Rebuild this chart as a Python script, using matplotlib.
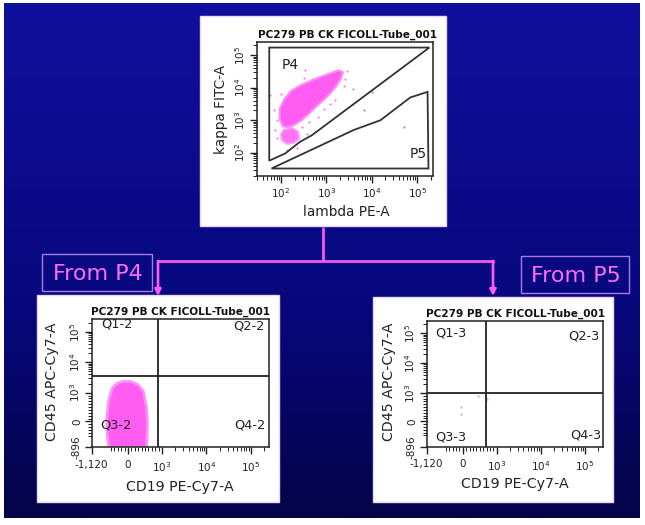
import numpy as np
import matplotlib
matplotlib.use('Agg')
import matplotlib.pyplot as plt
from matplotlib.patches import Rectangle, Polygon
from matplotlib.ticker import FixedLocator, FixedFormatter, NullFormatter, LogLocator

plt.rcParams['font.family'] = ['DejaVu Sans']
plt.rcParams['mathtext.fontset'] = 'dejavusans'

# ---------------- data ----------------
title = 'PC279 PB CK FICOLL-Tube_001'
top_xlabel = 'lambda PE-A'
top_ylabel = 'kappa FITC-A'
low_xlabel = 'CD19 PE-Cy7-A'
low_ylabel = 'CD45 APC-Cy7-A'
from_labels = ['From P4', 'From P5']

top_major_exp = [2, 3, 4, 5]
top_xlim_exp = (1.47, 5.35)
top_ylim_exp = (1.29, 5.40)

# gates in log10 units (lambda, kappa)
p4_gate_exp = [(1.74, 5.23), (5.27, 5.23), (2.68, 2.54), (2.42, 2.34), (2.09, 1.98), (1.74, 1.76)]
p5_gate_exp = [(1.79, 1.52), (3.60, 2.70), (4.19, 3.00), (4.85, 3.70), (5.23, 3.87), (5.25, 1.52)]
gate_labels = [('P4', 2.20, 4.69), ('P5', 5.03, 1.98)]

# kappa-positive cloud outline (log10 units)
cloud_main_exp = [(1.97, 3.05), (1.97, 3.35), (2.07, 3.64), (2.22, 3.90), (2.44, 4.08), (2.70, 4.24),
                  (2.93, 4.36), (3.12, 4.46), (3.27, 4.53), (3.36, 4.47), (3.32, 4.28), (3.22, 4.05),
                  (3.08, 3.82), (2.92, 3.60), (2.76, 3.40), (2.60, 3.18), (2.45, 3.00), (2.30, 2.86),
                  (2.15, 2.78), (2.03, 2.82)]
cloud_minor_exp = [(2.05, 2.70), (2.24, 2.78), (2.38, 2.65), (2.40, 2.44), (2.29, 2.31), (2.13, 2.27),
                   (2.01, 2.39), (2.00, 2.57)]
sparse_pink_exp = [(1.92, 3.00), (1.87, 2.70), (2.13, 2.08), (2.35, 2.16), (2.58, 2.57), (2.82, 3.11),
                   (3.08, 3.50), (3.41, 4.28), (3.58, 3.97), (1.76, 3.77), (2.53, 4.54), (2.01, 3.82),
                   (2.47, 2.80), (2.62, 2.95), (2.95, 3.35), (3.20, 3.62), (3.46, 4.52), (1.90, 2.45),
                   (2.22, 2.55), (2.50, 4.30), (1.85, 3.30), (3.38, 4.05)]
sparse_gray_exp = [(4.00, 3.87), (4.72, 2.78), (3.82, 3.31)]

# lower panels (biexponential-like axes)
low_xticks = [-1120, 0, 1e3, 1e4, 1e5]
low_xticklabels = ['-1,120', '0', '$10^{3}$', '$10^{4}$', '$10^{5}$']
low_yticks = [-896, 0, 1e3, 1e4, 1e5]
low_yticklabels = ['-896', '0', '$10^{3}$', '$10^{4}$', '$10^{5}$']
low_xlim = (-1120, 262143)
low_ylim = (-896, 262143)
low_minor = [-500, -400, -300, -200, -100, 100, 200, 300, 400, 500, 600, 700, 800, 900,
             2000, 3000, 4000, 5000, 6000, 7000, 8000, 9000,
             20000, 30000, 40000, 50000, 60000, 70000, 80000, 90000, 200000]

quad_p4 = (888, 3565)
quad_p5 = (675, 1000)
quad_labels_p4 = ['Q1-2', 'Q2-2', 'Q3-2', 'Q4-2']
quad_labels_p5 = ['Q1-3', 'Q2-3', 'Q3-3', 'Q4-3']

cd_cloud_p4 = [(-150, 2350), (100, 2300), (300, 1800), (450, 1100), (540, 500), (570, 0), (560, -500),
               (540, -896), (-560, -896), (-610, -450), (-620, 100), (-570, 700), (-470, 1350), (-330, 2000)]
p5_events_x = [-62, -62, 457, 704]
p5_events_y = [494, 257, 892, 775]

# ---------------- styling ----------------
W, H = 645, 525
PINK = '#ff5cf2'
fig = plt.figure(figsize=(W / 100, H / 100), dpi=100)
fig.patch.set_facecolor('white')

bg = fig.add_axes([0, 0, 1, 1])
bg.set_xlim(0, W)
bg.set_ylim(H, 0)
bg.axis('off')

ys = np.linspace(0, 1, 300)
stops = [0, 0.58, 1]
r = np.interp(ys, stops, [16, 8, 4])
g = np.interp(ys, stops, [16, 8, 4])
b = np.interp(ys, stops, [158, 126, 72])
grad = np.stack([r, g, b], axis=-1)[:, None, :] / 255.0
bg.imshow(grad, extent=[4, 640, 518, 3], aspect='auto', zorder=0)

for (l, t, rr, bb) in [(200, 16, 446, 226), (37, 295, 279, 502), (373, 297, 613, 502)]:
    bg.add_patch(Rectangle((l, t), rr - l, bb - t, facecolor='white', edgecolor='#ecd4f4', lw=1, zorder=1))

for (l, t, rr, bb), lab in zip([(42, 254, 152, 291), (521, 256, 629, 293)], from_labels):
    bg.add_patch(Rectangle((l, t), rr - l, bb - t, facecolor='none', edgecolor='#a57ae6', lw=1, zorder=2))
    bg.text((l + rr) / 2 + 1, (t + bb) / 2 + 1, lab, color='#ff6cf6', fontsize=16, ha='center', va='center', zorder=3)

bg.plot([323, 323], [227, 261], color=PINK, lw=1.9, zorder=2, solid_capstyle='butt')
bg.plot([158, 493], [261, 261], color=PINK, lw=1.9, zorder=2, solid_capstyle='projecting')
for x in (158, 493):
    bg.annotate('', xy=(x, 296), xytext=(x, 261),
                arrowprops=dict(arrowstyle='-|>', color=PINK, lw=1.9, mutation_scale=9, shrinkA=0, shrinkB=0), zorder=3)

# titles and axis labels
tkw = dict(fontsize=7.6, fontweight='bold', ha='center', va='center', color='#111', zorder=3)
bg.text(348, 35, title, **tkw)
bg.text(181, 312, title, **tkw)
bg.text(516, 314, title, **tkw)
bg.text(346, 212, top_xlabel, fontsize=9.8, ha='center', va='center', color='#222', zorder=3)
bg.text(221, 109, top_ylabel, fontsize=9.8, ha='center', va='center', rotation=90, color='#222', zorder=3)
bg.text(180, 487, low_xlabel, fontsize=10.2, ha='center', va='center', color='#222', zorder=3)
bg.text(52, 382, low_ylabel, fontsize=10.2, ha='center', va='center', rotation=90, color='#222', zorder=3)
bg.text(515, 484, low_xlabel, fontsize=10.2, ha='center', va='center', color='#222', zorder=3)
bg.text(389, 382, low_ylabel, fontsize=10.2, ha='center', va='center', rotation=90, color='#222', zorder=3)


def px_axes(l, t, rr, bb):
    a = fig.add_axes([l / W, 1 - bb / H, (rr - l) / W, (bb - t) / H])
    a.set_facecolor('white')
    for s in a.spines.values():
        s.set_linewidth(1.1)
        s.set_color('#222')
    a.tick_params(which='major', direction='out', length=5, width=1.0, labelsize=7.5, colors='#222')
    a.tick_params(which='minor', direction='out', length=3, width=0.7, colors='#222')
    a.tick_params(top=False, right=False)
    return a


# ---------- top panel ----------
ax = px_axes(257, 42, 433, 176)
ax.set_xscale('log')
ax.set_yscale('log')
ax.set_xlim(10 ** top_xlim_exp[0], 10 ** top_xlim_exp[1])
ax.set_ylim(10 ** top_ylim_exp[0], 10 ** top_ylim_exp[1])
maj = [10.0 ** e for e in top_major_exp]
labs = ['$10^{%d}$' % e for e in top_major_exp]
for axis in (ax.xaxis, ax.yaxis):
    axis.set_major_locator(FixedLocator(maj))
    axis.set_major_formatter(FixedFormatter(labs))
    axis.set_minor_locator(LogLocator(base=10, subs=np.arange(2, 10)))
    axis.set_minor_formatter(NullFormatter())
ax.tick_params(axis='x', pad=2)
ax.tick_params(axis='y', labelrotation=90, pad=2)
for lab in ax.get_yticklabels():
    lab.set_va('center')

ax.add_patch(Polygon([(10 ** a, 10 ** b) for a, b in cloud_main_exp], closed=True,
                     facecolor=PINK, edgecolor='#ff8cf6', lw=1.5, zorder=2))
ax.add_patch(Polygon([(10 ** a, 10 ** b) for a, b in cloud_minor_exp], closed=True,
                     facecolor=PINK, edgecolor='#ff9cf7', lw=1.5, alpha=0.85, zorder=2))
ax.scatter([10 ** a for a, b in sparse_pink_exp], [10 ** b for a, b in sparse_pink_exp],
           s=2.5, color='#ff7af4', linewidths=0, zorder=2)
ax.scatter([10 ** a for a, b in sparse_gray_exp], [10 ** b for a, b in sparse_gray_exp],
           s=2.5, color='#999', linewidths=0, zorder=2)
for gate in (p4_gate_exp, p5_gate_exp):
    ax.add_patch(Polygon([(10 ** a, 10 ** b) for a, b in gate], closed=True, fill=False,
                         edgecolor='#333', lw=1.3, zorder=3))
for name, a, b in gate_labels:
    ax.text(10 ** a, 10 ** b, name, fontsize=10, ha='center', va='center', color='#222', zorder=4)


# ---------- lower panels ----------
def lower_axes(l, t, rr, bb):
    a = px_axes(l, t, rr, bb)
    a.set_xscale('symlog', linthresh=1000, linscale=0.693)
    a.set_yscale('symlog', linthresh=1000, linscale=0.855)
    a.set_xlim(*low_xlim)
    a.set_ylim(*low_ylim)
    a.xaxis.set_major_locator(FixedLocator(low_xticks))
    a.xaxis.set_major_formatter(FixedFormatter(low_xticklabels))
    a.yaxis.set_major_locator(FixedLocator(low_yticks))
    a.yaxis.set_major_formatter(FixedFormatter(low_yticklabels))
    a.xaxis.set_minor_locator(FixedLocator(low_minor))
    a.yaxis.set_minor_locator(FixedLocator(low_minor))
    a.xaxis.set_minor_formatter(NullFormatter())
    a.yaxis.set_minor_formatter(NullFormatter())
    a.tick_params(axis='x', pad=4)
    a.tick_params(axis='y', labelrotation=90, pad=2)
    for lab in a.get_yticklabels():
        lab.set_va('center')
    return a


ax2 = lower_axes(91.7, 319.3, 269.3, 447.3)
ax2.add_patch(Polygon(cd_cloud_p4, closed=True, facecolor=PINK, edgecolor='#ff90f6', lw=2, zorder=2))
ax2.axvline(quad_p4[0], color='#222', lw=1.3, zorder=3)
ax2.axhline(quad_p4[1], color='#222', lw=1.3, zorder=3)
qkw = dict(fontsize=9.3, color='#222', transform=ax2.transAxes, zorder=4)
ax2.text(0.056, 0.965, quad_labels_p4[0], ha='left', va='center', clip_on=True, **qkw)
ax2.text(0.976, 0.945, quad_labels_p4[1], ha='right', va='center', **qkw)
ax2.text(0.047, 0.174, quad_labels_p4[2], ha='left', va='center', **qkw)
ax2.text(0.976, 0.174, quad_labels_p4[3], ha='right', va='center', **qkw)

ax3 = lower_axes(426.7, 320.7, 603.3, 446.7)
ax3.scatter(p5_events_x, p5_events_y, s=3, color='#c8c0a8', linewidths=0, zorder=2)
ax3.axvline(quad_p5[0], color='#222', lw=1.3, zorder=3)
ax3.axhline(quad_p5[1], color='#222', lw=1.3, zorder=3)
qkw3 = dict(fontsize=9.3, color='#222', transform=ax3.transAxes, zorder=4)
ax3.text(0.047, 0.90, quad_labels_p5[0], ha='left', va='center', **qkw3)
ax3.text(0.981, 0.879, quad_labels_p5[1], ha='right', va='center', **qkw3)
ax3.text(0.047, 0.079, quad_labels_p5[2], ha='left', va='center', **qkw3)
ax3.text(0.99, 0.095, quad_labels_p5[3], ha='right', va='center', **qkw3)

fig.savefig('out.png', dpi=100)
